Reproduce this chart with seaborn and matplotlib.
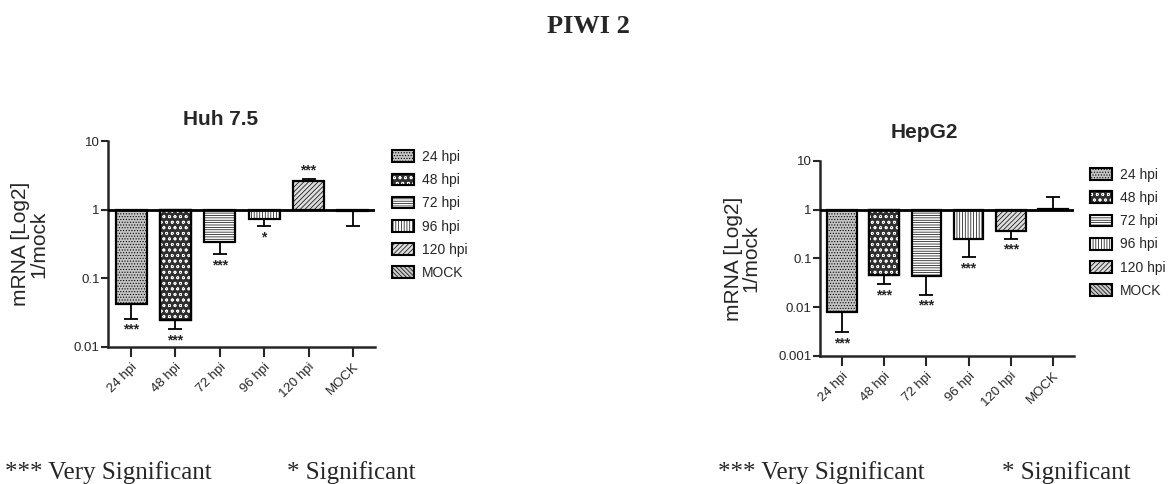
import numpy as np
import pandas as pd
import matplotlib
matplotlib.use("Agg")
import matplotlib.pyplot as plt
from matplotlib.patches import Patch, Rectangle
from matplotlib.legend_handler import HandlerTuple
import seaborn as sns

sns.set_style("ticks")
plt.rcParams['font.family'] = ['Liberation Sans', 'DejaVu Sans']
plt.rcParams['hatch.linewidth'] = 0.5

# data (fold change vs mock)
cats = ['24 hpi', '48 hpi', '72 hpi', '96 hpi', '120 hpi', 'MOCK']
hatches = ['......', 'ooo', '-------', '||||||', '///////', '\\\\\\\\\\\\\\\\']
faces = ['#c4c4c4', '#303030', 'white', 'white', '#dcdcdc', '#c8c8c8']
# second layer of hatch (white) for the dark checker bar
overlay = [None, 'white', None, None, None, None]

huh_mean = [0.043, 0.025, 0.345, 0.73, 2.68, 0.965]
huh_err_end = [0.026, 0.018, 0.225, 0.583, 2.85, 0.58]
huh_sig = ['***', '***', '***', '*', '***', '']

hep_mean = [0.0078, 0.045, 0.043, 0.25, 0.37, 1.03]
hep_err_end = [0.0031, 0.0294, 0.018, 0.107, 0.254, 1.79]
hep_sig = ['***', '***', '***', '***', '***', '']

fig = plt.figure(figsize=(11.72, 4.84), dpi=100)
ax1 = fig.add_axes([0.0922, 0.2831, 0.2278, 0.4246])
ax2 = fig.add_axes([0.6997, 0.2645, 0.2167, 0.4029])


def draw_panel(ax, title, mean, err_end, sig, ymin, title_xy, label_x):
    df = pd.DataFrame({'cond': cats, 'logv': np.log10(mean)})
    sns.barplot(data=df, x='cond', y='logv', order=cats, color='white',
                edgecolor='black', linewidth=1.6, width=0.7, errorbar=None,
                saturation=1, ax=ax)
    for p, h, fc, ov in zip(list(ax.patches), hatches, faces, overlay):
        p.set_facecolor(fc)
        if ov is None:
            p.set_hatch(h)
        else:
            # white dots on dark bar: hatch colour follows edge colour
            r = Rectangle(p.get_xy(), p.get_width(), p.get_height(), fill=False,
                          edgecolor=ov, hatch=h, lw=0, zorder=p.get_zorder() + 0.01)
            ax.add_patch(r)
            r2 = Rectangle(p.get_xy(), p.get_width(), p.get_height(), fill=False,
                           edgecolor='black', lw=1.6, zorder=p.get_zorder() + 0.02)
            ax.add_patch(r2)

    # one sided error bars, away from baseline
    m = np.log10(mean)
    e = np.log10(err_end)
    lower = np.where(e < m, m - e, 0)
    upper = np.where(e > m, e - m, 0)
    ax.errorbar(range(len(cats)), m, yerr=[lower, upper], fmt='none',
                ecolor='black', elinewidth=1.3, capsize=5, capthick=1.3)

    for i, s in enumerate(sig):
        if not s:
            continue
        if e[i] < m[i]:
            ax.annotate(s, (i, e[i]), xytext=(0, -3), textcoords='offset points',
                        ha='center', va='top', fontsize=10, fontweight='bold')
        else:
            ax.annotate(s, (i, e[i]), xytext=(0, 1), textcoords='offset points',
                        ha='center', va='bottom', fontsize=10, fontweight='bold')

    ax.axhline(0, color='black', lw=2, zorder=5)
    ax.set_ylim(ymin, 1)
    ax.set_xlim(-0.52, 5.5)
    ticks = list(range(ymin, 2))
    ax.set_yticks(ticks)
    ax.set_yticklabels([f"{10.0 ** t:g}" for t in ticks], fontsize=9.5)
    ax.set_xticks(range(len(cats)))
    ax.set_xticklabels(cats, rotation=45, ha='right', rotation_mode='anchor', fontsize=9.5)
    ax.tick_params(axis='y', width=1.5, length=5, pad=1)
    ax.tick_params(axis='x', width=1.5, length=7, pad=3)
    for sp in ['left', 'bottom']:
        ax.spines[sp].set_linewidth(1.8)
    sns.despine(ax=ax)
    ax.set_xlabel('')
    ax.set_ylabel('mRNA [Log2]\n1/mock', fontsize=15, linespacing=0.9)
    ax.yaxis.set_label_coords(label_x, 0.5)
    ax.text(title_xy[0], title_xy[1], title, transform=ax.transAxes,
            ha='center', va='baseline', fontsize=15, fontweight='bold')


draw_panel(ax1, 'Huh 7.5', huh_mean, huh_err_end, huh_sig, -2, (0.423, 1.080), -0.225)
draw_panel(ax2, 'HepG2', hep_mean, hep_err_end, hep_sig, -3, (0.411, 1.118), -0.236)

handles = []
for h, fc, ov in zip(hatches, faces, overlay):
    if ov is None:
        handles.append(Patch(facecolor=fc, edgecolor='black', hatch=h, linewidth=1.5))
    else:
        handles.append((Patch(facecolor=fc, edgecolor='black', linewidth=1.5),
                        Patch(fill=False, edgecolor=ov, hatch=h, linewidth=0),
                        Patch(fill=False, edgecolor='black', linewidth=1.5)))
leg_kw = dict(frameon=False, fontsize=10, handlelength=1.57, handleheight=0.93,
              handletextpad=0.57, labelspacing=0.66, borderpad=0, borderaxespad=0,
              loc='upper left', bbox_transform=fig.transFigure,
              handler_map={tuple: HandlerTuple(ndivide=1, pad=0)})
ax1.legend(handles, cats, bbox_to_anchor=(0.3345, 0.690), **leg_kw)
ax2.legend(handles, cats, bbox_to_anchor=(0.930, 0.653), **leg_kw)

serif = ['Liberation Serif', 'DejaVu Serif']
fig.text(588 / 1172, 1 - 33 / 484, 'PIWI 2', ha='center', va='baseline',
         fontsize=19, fontweight='bold', family=serif)
for x, s in [(5, '*** Very Significant'), (287, '* Significant'),
             (718, '*** Very Significant'), (1002, '* Significant')]:
    fig.text(x / 1172, 5 / 484, s, ha='left', va='baseline', fontsize=18, family=serif)

fig.savefig('out.png', dpi=100)
